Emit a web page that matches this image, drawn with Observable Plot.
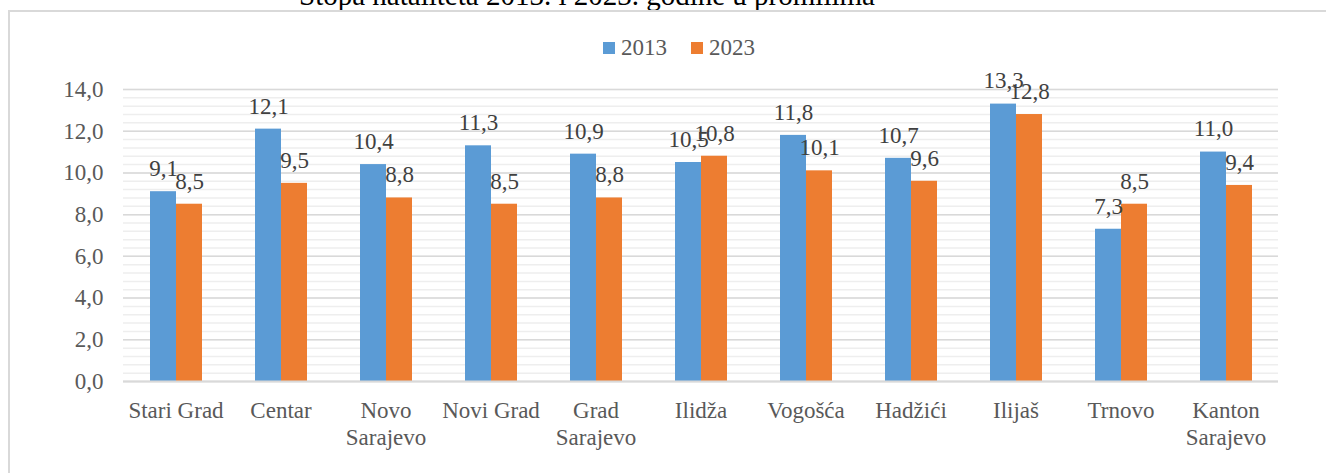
<!DOCTYPE html>
<html>
<head>
<meta charset="utf-8">
<script src="https://cdn.jsdelivr.net/npm/d3@7"></script>
<script src="https://cdn.jsdelivr.net/npm/@observablehq/plot@0.6"></script>
<style>
  html, body { margin: 0; padding: 0; background: #fff; overflow: hidden; }
  body { width: 1326px; height: 473px; position: relative; font-family: "Liberation Serif", "Times New Roman", serif; }
  #title { position: absolute; left: 0; width: 1174px; top: -22px; text-align: center; font-size: 29px; line-height: 34px; color: #000; white-space: nowrap; }
  #frame { position: absolute; left: 8px; top: 10px; width: 1340px; height: 480px; border: 2px solid #d9d9d9; box-sizing: border-box; }
  #legend { position: absolute; left: 603px; top: 35px; display: flex; align-items: center; font-size: 23px; line-height: 26px; color: #595959; }
  #legend .sw { width: 12px; height: 12px; display: inline-block; margin-right: 6px; }
  #legend .item { display: flex; align-items: center; margin-right: 24px; }
  #chart { position: absolute; left: 0; top: 0; }
</style>
</head>
<body>
<div id="title">Stopa nataliteta 2013. i 2023. godine u promilima</div>
<div id="frame"></div>
<div id="chart"></div>
<div id="legend"></div>
<script>
const categories = ["Stari Grad", "Centar", "Novo Sarajevo", "Novi Grad", "Grad Sarajevo", "Ilidža", "Vogošća", "Hadžići", "Ilijaš", "Trnovo", "Kanton Sarajevo"];
const categoryLabels = ["Stari Grad", "Centar", "Novo\nSarajevo", "Novi Grad", "Grad\nSarajevo", "Ilidža", "Vogošća", "Hadžići", "Ilijaš", "Trnovo", "Kanton\nSarajevo"];
const years = ["2013", "2023"];
const values2013 = [9.1, 12.1, 10.4, 11.3, 10.9, 10.5, 11.8, 10.7, 13.3, 7.3, 11.0];
const values2023 = [8.5, 9.5, 8.8, 8.5, 8.8, 10.8, 10.1, 9.6, 12.8, 8.5, 9.4];
const colors = ["#5B9BD5", "#ED7D31"];
const yTicks = [0, 2, 4, 6, 8, 10, 12, 14];
const yMinor = d3.range(0, 14.001, 0.4);

const data = [];
categories.forEach((c, i) => {
  data.push({cat: c, year: years[0], value: values2013[i]});
  data.push({cat: c, year: years[1], value: values2023[i]});
});
const fmt = v => v.toFixed(1).replace(".", ",");
const labelOf = new Map(categories.map((c, i) => [c, categoryLabels[i]]));

const chart = Plot.plot({
  width: 1326,
  height: 473,
  marginLeft: 122,
  marginRight: 48,
  marginTop: 89,
  marginBottom: 92,
  style: {fontFamily: "'Liberation Serif', 'Times New Roman', serif", background: "transparent", overflow: "visible"},
  fx: {domain: categories, padding: 0, label: null},
  x: {domain: years, paddingInner: 0, paddingOuter: 0.98, axis: null},
  y: {domain: [0, 14], label: null},
  color: {domain: years, range: colors},
  marks: [
    Plot.ruleY(yMinor, {stroke: "#eeeeee", strokeWidth: 1.5}),
    Plot.ruleY(yTicks, {stroke: "#d9d9d9", strokeWidth: 1.5}),
    Plot.barY(data, {fx: "cat", x: "year", y: "value", fill: "year"}),
    Plot.ruleY([0], {stroke: "#d9d9d9", strokeWidth: 2}),
    Plot.text(data, {fx: "cat", x: "year", y: "value", text: d => fmt(d.value), dy: -23, fontSize: 23, fill: "#404040"}),
    Plot.axisY({ticks: yTicks, tickSize: 0, tickPadding: 20, tickFormat: fmt, fontSize: 23, fill: "#595959", label: null}),
    Plot.axisFx({anchor: "bottom", tickSize: 0, tickPadding: 18, tickFormat: d => labelOf.get(d), fontSize: 23, lineHeight: 1.16, fill: "#595959", label: null})
  ]
});
document.getElementById("chart").appendChild(chart);

const legend = document.getElementById("legend");
years.forEach((y, i) => {
  const item = document.createElement("span");
  item.className = "item";
  const sw = document.createElement("span");
  sw.className = "sw";
  sw.style.background = colors[i];
  item.appendChild(sw);
  item.appendChild(document.createTextNode(y));
  legend.appendChild(item);
});
</script>
</body>
</html>
